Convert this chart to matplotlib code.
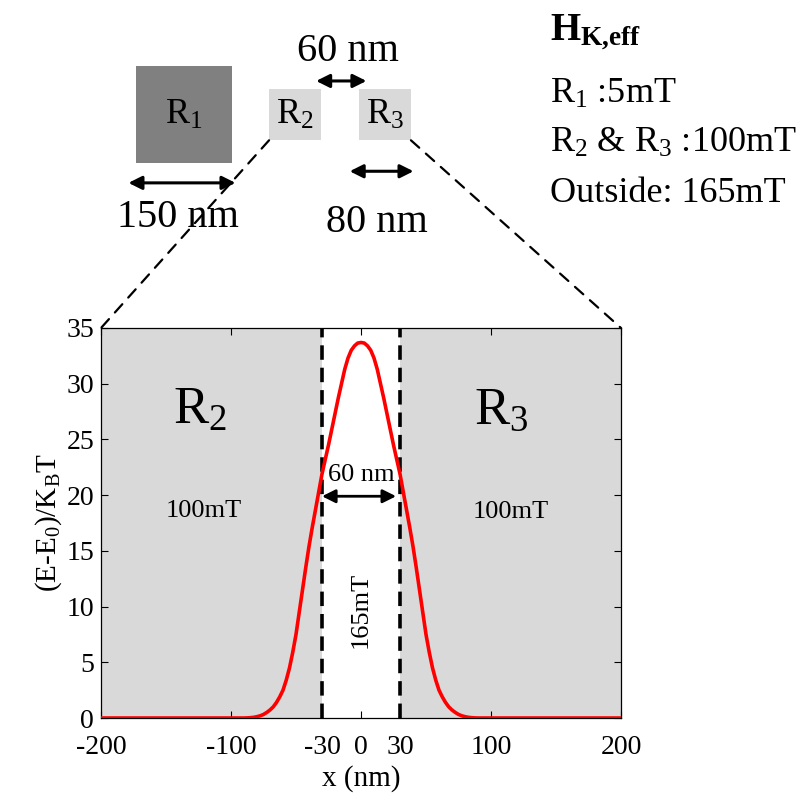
import matplotlib
matplotlib.use("Agg")
import matplotlib.pyplot as plt
from matplotlib.patches import Rectangle, ConnectionPatch

plt.rcParams['font.family'] = ['Liberation Serif', 'DejaVu Serif']
plt.rcParams['mathtext.fontset'] = 'custom'
plt.rcParams['mathtext.rm'] = 'Liberation Serif'
plt.rcParams['mathtext.it'] = 'Liberation Serif:italic'
plt.rcParams['mathtext.bf'] = 'Liberation Serif:bold'
plt.rcParams['axes.unicode_minus'] = False

# Energy barrier profile along the wire (left half, mirrored for the right)
x_left = [-200, -150, -100, -90, -87.5, -85, -82.5, -80, -77.5, -75, -72.5,
          -70, -67.5, -65, -62.5, -60, -57.5, -55, -52.5, -50, -47.5, -45,
          -42.5, -40, -37.5, -35, -32.5, -30, -27.5, -25, -22.5, -20, -17.5,
          -15, -12.5, -10, -7.5, -5, -2.5]
e_left = [0.0, 0.0, 0.0, 0.0, 0.01, 0.03, 0.06, 0.12, 0.2, 0.32, 0.5,
          0.72, 1.0, 1.4, 1.9, 2.5, 3.4, 4.5, 5.9, 7.5, 9.5, 11.5,
          13.5, 15.4, 17.1, 18.7, 20.3, 21.9, 23.2, 24.5, 25.9, 27.3, 28.7,
          30.0, 31.3, 32.3, 33.0, 33.4, 33.65]
e_peak = 33.7
x_nm = x_left + [0] + [-v for v in x_left[::-1]]
energy = e_left + [e_peak] + e_left[::-1]

x_ticks = [-200, -100, -30, 0, 30, 100, 200]
y_ticks = [0, 5, 10, 15, 20, 25, 30, 35]
gap_nm = 60          # width of the central (outside) region
dot_nm = 80          # size of R2 / R3
big_nm = 150         # size of R1
field_labels = ["5mT", "100mT", "165mT"]

W, H = 808, 801
fig = plt.figure(figsize=(W / 100, H / 100), dpi=100)

# ---------------- main energy plot ----------------
ax = fig.add_axes([101 / W, 1 - 718 / H, 520 / W, 390 / H])
half = gap_nm / 2
gray = '#d9d9d9'
ax.axvspan(-200, -half, color=gray, lw=0, zorder=0)
ax.axvspan(half, 200, color=gray, lw=0, zorder=0)
for xv in (-half, half):
    ax.axvline(xv, color='k', lw=2.6, linestyle=(0, (4, 2.2)), zorder=2)
ax.plot(x_nm, energy, color='#ff0000', lw=2.6, zorder=3)

ax.set_xlim(-200, 200)
ax.set_ylim(0, 35)
ax.set_xticks(x_ticks)
ax.set_yticks(y_ticks)
ax.tick_params(direction='in', top=True, right=True, length=5, width=0.8,
               labelsize=20)
ax.tick_params(axis='x', pad=12)
ax.tick_params(axis='y', pad=5)
for s in ax.spines.values():
    s.set_linewidth(0.9)
ax.set_xlabel('x (nm)', fontsize=21, labelpad=4)
ax.set_ylabel(r'(E-E$_0$)/K$_\mathrm{B}$T', fontsize=21, labelpad=2)

ax.text(-124, 27.6, r'R$_2$', fontsize=38, ha='center', va='center')
ax.text(108, 27.6, r'R$_3$', fontsize=38, ha='center', va='center')
ax.text(-121, 18.6, field_labels[1], fontsize=19, ha='center', va='center')
ax.text(115, 18.5, field_labels[1], fontsize=19, ha='center', va='center')
ax.text(0, 9.7, field_labels[2], fontsize=19, ha='center', va='center', rotation=90)
ax.text(0, 21.8, f'{gap_nm} nm', fontsize=19, ha='center', va='center')
ax.annotate('', xy=(half - 3, 19.9), xytext=(-half, 19.9),
            arrowprops=dict(arrowstyle='<|-|>', color='k', lw=2,
                            mutation_scale=20, shrinkA=0, shrinkB=0))

# ---------------- schematic of the three regions (nm units) ----------------
scale = 0.645                     # pixels per nm in the sketch
cx, cy = 340, 114.5               # pixel position of the sketch origin
sk = fig.add_axes([0, 0, 1, 1], zorder=-1)
sk.set_xlim(-cx / scale, (W - cx) / scale)
sk.set_ylim(-(H - cy) / scale, cy / scale)
sk.axis('off')

g = gap_nm / 2
r2 = Rectangle((-g - dot_nm, -dot_nm / 2), dot_nm, dot_nm, color=gray, lw=0)
r3 = Rectangle((g, -dot_nm / 2), dot_nm, dot_nm, color=gray, lw=0)
r1 = Rectangle((-317, -big_nm / 2), big_nm, big_nm, color='#808080', lw=0)
for p in (r1, r2, r3):
    sk.add_patch(p)
sk.text(-317 + big_nm / 2, -2, r'R$_1$', fontsize=26, ha='center', va='center')
sk.text(-g - dot_nm / 2, -2, r'R$_2$', fontsize=26, ha='center', va='center')
sk.text(g + dot_nm / 2, -2, r'R$_3$', fontsize=26, ha='center', va='center')

arrow_kw = dict(arrowstyle='<|-|>', color='k', lw=2.2, mutation_scale=20,
                shrinkA=0, shrinkB=0)
sk.annotate('', xy=(41, 52), xytext=(-37, 52), arrowprops=arrow_kw)
sk.text(12, 98, f'{gap_nm} nm', fontsize=29, ha='center', va='center')
sk.annotate('', xy=(-162, -106), xytext=(-328, -106), arrowprops=arrow_kw)
sk.text(-252, -160, f'{big_nm} nm', fontsize=29, ha='center', va='center')
sk.annotate('', xy=(114, -88), xytext=(15, -88), arrowprops=arrow_kw)
sk.text(57, -167, f'{dot_nm} nm', fontsize=29, ha='center', va='center')

for xyA, xyB in [((-g - dot_nm, -dot_nm / 2), (0, 1)),
                 ((g + dot_nm, -dot_nm / 2), (1, 1))]:
    con = ConnectionPatch(xyA=xyA, coordsA=sk.transData, xyB=xyB,
                          coordsB=ax.transAxes, color='k', lw=1.6,
                          linestyle=(0, (5, 4)))
    fig.add_artist(con)

# ---------------- legend text for effective anisotropy field ----------------
tx = 550 / W
fig.text(tx, 1 - 32 / H, r'$\mathbf{H}_{\mathbf{K{,}eff}}$', fontsize=28,
         ha='left', va='center')
fig.text(tx, 1 - 94 / H, r'R$_1$ :' + field_labels[0], fontsize=26, ha='left', va='center')
fig.text(tx, 1 - 143 / H, r'R$_2$ & R$_3$ :' + field_labels[1], fontsize=26,
         ha='left', va='center')
fig.text(tx, 1 - 193 / H, 'Outside: ' + field_labels[2], fontsize=26,
         ha='left', va='center')

fig.savefig('out.png', dpi=100)
